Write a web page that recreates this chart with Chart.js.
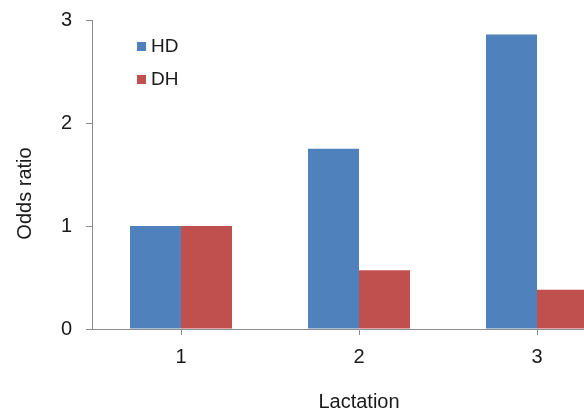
<!DOCTYPE html>
<html>
<head>
<meta charset="utf-8">
<script src="https://cdn.jsdelivr.net/npm/chart.js@4"></script>
<style>
  html, body { margin: 0; padding: 0; background: #fff; overflow: hidden; }
  #wrap { position: relative; width: 640px; height: 414px; }
</style>
</head>
<body>
<div id="wrap"><canvas id="myChart"></canvas></div>
<script>
const lactations = ['1', '2', '3'];
const hdOdds = [1.0, 1.75, 2.86];
const dhOdds = [1.0, 0.57, 0.38];
const yTicks = [0, 1, 2, 3];

const axisGrey = '#8c8c8c';
const textColor = '#1a1a1a';
const fontFamily = '"Liberation Sans", Arial, sans-serif';

// legend sits inside the plot, stacked vertically
const insideLegend = {
    id: 'insideLegend',
    afterDraw(chart) {
        const ctx = chart.ctx;
        const area = chart.chartArea;
        ctx.save();
        ctx.font = '19px ' + fontFamily;
        ctx.textBaseline = 'middle';
        chart.data.datasets.forEach((ds, i) => {
            const y = area.top + 27 + i * 33;
            const x = area.left + 45;
            ctx.fillStyle = ds.backgroundColor;
            ctx.fillRect(x, y - 5, 9, 9);
            ctx.fillStyle = textColor;
            ctx.fillText(ds.label, x + 14, y);
        });
        ctx.restore();
    }
};

// y axis title, set a little below the middle of the axis
const yTitle = {
    id: 'yTitle',
    afterDraw(chart) {
        const ctx = chart.ctx;
        const area = chart.chartArea;
        ctx.save();
        ctx.font = '20px ' + fontFamily;
        ctx.fillStyle = textColor;
        ctx.textAlign = 'center';
        ctx.textBaseline = 'middle';
        ctx.translate(25, (area.top + area.bottom) / 2 + 19);
        ctx.rotate(-Math.PI / 2);
        ctx.fillText('Odds ratio', 0, 0);
        ctx.restore();
    }
};

const ctx = document.getElementById('myChart').getContext('2d');
const myChart = new Chart(ctx, {
    type: 'bar',
    data: {
        labels: lactations,
        datasets: [
            { label: 'HD', data: hdOdds, backgroundColor: '#4f81bd' },
            { label: 'DH', data: dhOdds, backgroundColor: '#c0504d' }
        ]
    },
    options: {
        responsive: true,
        maintainAspectRatio: false,
        animation: false,
        layout: { padding: { top: 20, right: 14, left: 0, bottom: 0 } },
        datasets: {
            bar: { categoryPercentage: 0.573, barPercentage: 1.0, borderWidth: 0 }
        },
        plugins: {
            legend: { display: false },
            tooltip: { enabled: false }
        },
        scales: {
            x: {
                afterFit(scale) {
                    scale.height = 85;
                    scale.paddingLeft = 0;
                    scale.paddingRight = 0;
                },
                grid: {
                    offset: false,
                    drawOnChartArea: false,
                    drawTicks: true,
                    tickLength: 6,
                    color: axisGrey
                },
                border: { color: axisGrey, width: 1 },
                ticks: {
                    padding: 10,
                    color: textColor,
                    font: { family: fontFamily, size: 20 }
                },
                title: {
                    display: true,
                    text: 'Lactation',
                    color: textColor,
                    padding: { top: 4, bottom: 0 },
                    font: { family: fontFamily, size: 20 }
                }
            },
            y: {
                min: 0,
                max: 3,
                afterFit(scale) {
                    scale.width = 92;
                    scale.paddingTop = 0;
                    scale.paddingBottom = 0;
                },
                afterBuildTicks(scale) {
                    scale.ticks = yTicks.map(v => ({ value: v }));
                },
                grid: {
                    drawOnChartArea: false,
                    drawTicks: true,
                    tickLength: 6,
                    color: axisGrey
                },
                border: { color: axisGrey, width: 1 },
                ticks: {
                    padding: 14,
                    color: textColor,
                    font: { family: fontFamily, size: 20 }
                }
            }
        }
    },
    plugins: [insideLegend, yTitle]
});
</script>
</body>
</html>
